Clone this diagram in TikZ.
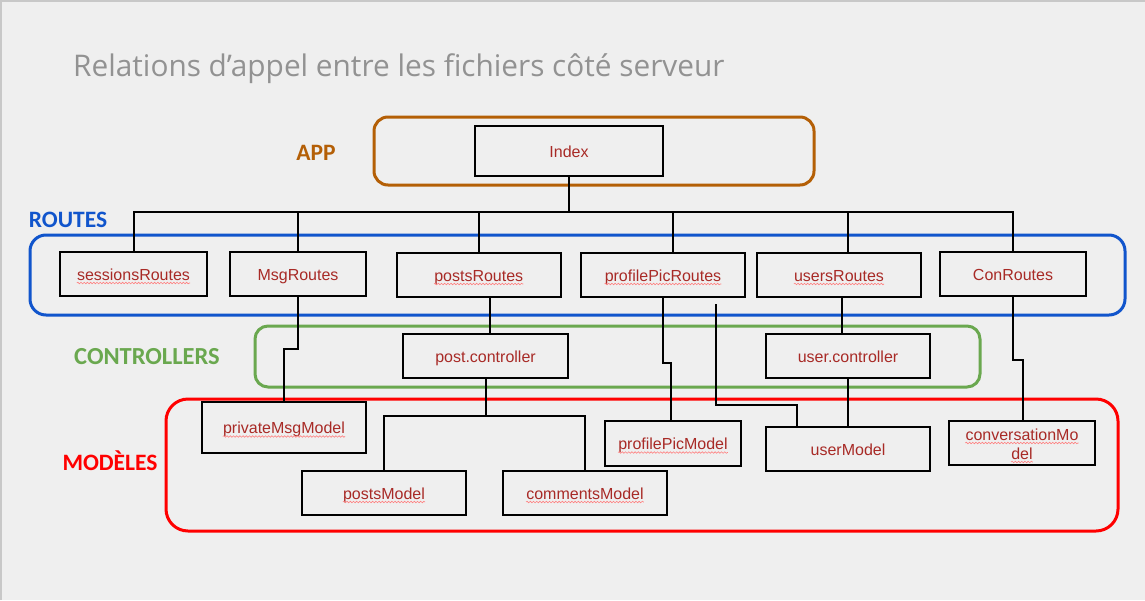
\documentclass[tikz,border=0pt]{standalone}
\usepackage{fontspec}
\setmainfont{Liberation Sans}
\newfontfamily\titlefont{Open Sans}
\newfontfamily\grpfont{Carlito}
\usetikzlibrary{decorations.pathmorphing}
\definecolor{bg}{HTML}{EFEFEF}
\definecolor{framegray}{HTML}{C8C8C8}
\definecolor{titlegray}{HTML}{929292}
\definecolor{appc}{HTML}{B45F06}
\definecolor{routec}{HTML}{1155CC}
\definecolor{ctrlc}{HTML}{6AA84F}
\definecolor{modc}{HTML}{FF0000}
\definecolor{nodetext}{RGB}{168,42,38}
\begin{document}
\begin{tikzpicture}[x=1pt,y=-1pt,
  box/.style={draw=black, line width=2.4pt, inner sep=0pt},
  lbl/.style={inner sep=0pt, text=nodetext, font=\fontsize{16}{19}\selectfont, text height=13pt, text depth=1pt},
  grpbox/.style={line width=3pt, inner sep=0pt},
  grplbl/.style={font=\grpfont\bfseries\fontsize{23.5}{26}\selectfont, inner sep=0pt, anchor=base},
  conn/.style={draw=black, line width=2pt},
  wavy/.style={draw=red!50, line width=0.6pt, decorate, decoration={snake, amplitude=0.8pt, segment length=3.2pt}}]
\useasboundingbox (0,0) rectangle (1145,600);
\fill[bg] (0,0) rectangle (1145,600);
\draw[framegray, line width=1.5pt] (1,600) -- (1,1) -- (1145,1);

% title
\node[anchor=base west, inner sep=0pt, text=titlegray, font=\titlefont\fontsize{29.8}{34}\selectfont] (title) at (73,76) {Relations d’appel entre les fichiers côté serveur};

% group boxes
\node[grpbox, draw=appc, rounded corners=14pt, minimum width=440, minimum height=68] (appbox) at (594,151) {};
\node[grpbox, draw=routec, rounded corners=16pt, minimum width=1095, minimum height=80] (routebox) at (577.5,275) {};
\node[grpbox, draw=ctrlc, rounded corners=13pt, minimum width=725, minimum height=61] (ctrlbox) at (617.5,356.5) {};
\node[grpbox, draw=modc, rounded corners=22pt, minimum width=952, minimum height=132] (modbox) at (642,465) {};

% group labels
\node[grplbl, text=appc] (applbl) at (316,160) {APP};
\node[grplbl, text=routec] (routelbl) at (68,227.5) {ROUTES};
\node[grplbl, text=ctrlc, font=\grpfont\bfseries\fontsize{24.5}{27}\selectfont] (ctrllbl) at (147,364.5) {CONTROLLERS};
\node[grplbl, text=modc] (modlbl) at (110,470) {MODÈLES};

% boxes
\node[box, minimum width=188, minimum height=50] (idx) at (569,151) {};
\node[box, minimum width=147, minimum height=44] (sess) at (133.5,274) {};
\node[box, minimum width=136, minimum height=44] (msg) at (298,274) {};
\node[box, minimum width=164, minimum height=44] (postsR) at (478.75,275) {};
\node[box, minimum width=164, minimum height=44] (ppR) at (663,275) {};
\node[box, minimum width=164, minimum height=44] (usersR) at (839,275) {};
\node[box, minimum width=146, minimum height=44] (ConR) at (1013,274) {};
\node[box, minimum width=165, minimum height=44] (postC) at (485.5,356) {};
\node[box, minimum width=164, minimum height=44] (userC) at (848,356) {};
\node[box, minimum width=164, minimum height=51] (pmsg) at (284,427.5) {};
\node[box, minimum width=164, minimum height=44] (postsM) at (384,493) {};
\node[box, minimum width=164, minimum height=44] (comM) at (585,493) {};
\node[box, minimum width=136, minimum height=45] (ppM) at (673,443.5) {};
\node[box, minimum width=164, minimum height=44] (userM) at (848,449) {};
\node[box, minimum width=146, minimum height=44] (convM) at (1022,443) {};

% texts
\node[lbl] (idxT) at (idx) {Index};
\node[lbl] (sessT) at (sess) {sessionsRoutes};
\node[lbl] (msgT) at (msg) {MsgRoutes};
\node[lbl] (postsRT) at (postsR) {postsRoutes};
\node[lbl] (ppRT) at (ppR) {profilePicRoutes};
\node[lbl] (usersRT) at (usersR) {usersRoutes};
\node[lbl] (ConRT) at (ConR) {ConRoutes};
\node[lbl] (postCT) at (postC) {post.controller};
\node[lbl] (userCT) at (userC) {user.controller};
\node[lbl] (pmsgT) at (pmsg) {privateMsgModel};
\node[lbl] (postsMT) at (postsM) {postsModel};
\node[lbl] (comMT) at (comM) {commentsModel};
\node[lbl] (ppMT) at (ppM) {profilePicModel};
\node[lbl] (userMT) at (userM) {userModel};
\node[lbl, anchor=base] (convT1) at (1022,440) {conversationMo};
\node[lbl, anchor=base] (convT2) at (1022,459) {del};

% spell-check underlines
\foreach \n in {sessT,postsRT,ppRT,usersRT,pmsgT,postsMT,comMT,ppMT,convT1,convT2}
  \draw[wavy] ([yshift=-3pt]\n.base west) -- ([yshift=-3pt]\n.base east);

% connectors
\coordinate (bus) at (569,212);
\draw[conn] (idx.south) -- (bus);
\draw[conn] (bus) -| (sess.north);
\draw[conn] (bus) -| (msg.north);
\draw[conn] (bus) -| (postsR.north);
\draw[conn] (bus) -| ([xshift=10pt]ppR.north);
\draw[conn] (bus) -| ([xshift=9pt]usersR.north);
\draw[conn] (bus) -| (ConR.north);

\draw[conn] (msg.south) -- ++(0,52) -| (pmsg.north);
\draw[conn] ([xshift=11pt]postsR.south) -- ([xshift=11pt]postsR.south |- postC.north);
\draw[conn] (postC.south) -- ++(0,37) coordinate (pj) -| (postsM.north);
\draw[conn] (pj) -| (comM.north);
\draw[conn] (ppR.south) -- ++(0,65) -| ([xshift=-2pt]ppM.north);
\draw[conn] ([xshift=53pt,yshift=-6pt]ppR.south) -- ++(0,101) -| ([xshift=-51pt]userM.north);
\draw[conn] ([xshift=3pt]usersR.south) -- ([xshift=3pt]usersR.south |- userC.north);
\draw[conn] (userC.south) -- (userM.north);
\draw[conn] (ConR.south) -- ++(0,63) -| ([xshift=1pt]convM.north);
\end{tikzpicture}
\end{document}
